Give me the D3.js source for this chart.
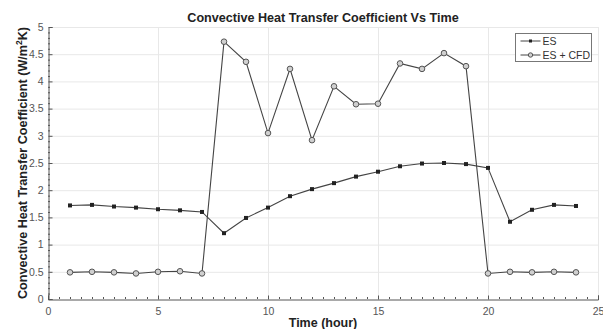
<!DOCTYPE html>
<html>
<head>
<meta charset="utf-8">
<script src="https://cdn.jsdelivr.net/npm/d3@7"></script>
<style>
  body { margin: 0; background: #fff; }
  text { font-family: "Liberation Sans", Arial, sans-serif; }
</style>
</head>
<body>
<div id="chart"></div>
<script>

// DATA

var hours = [1, 2, 3, 4, 5, 6, 7, 8, 9, 10, 11, 12, 13, 14, 15, 16, 17, 18, 19, 20, 21, 22, 23, 24];
var es = [1.72, 1.73, 1.70, 1.68, 1.65, 1.63, 1.60, 1.21, 1.49, 1.68, 1.89, 2.02, 2.13, 2.25, 2.34, 2.44, 2.49, 2.50, 2.48, 2.41, 1.42, 1.64, 1.73, 1.71];
var esCfd = [0.49, 0.50, 0.49, 0.47, 0.50, 0.51, 0.47, 4.73, 4.36, 3.05, 4.23, 2.92, 3.91, 3.58, 3.59, 4.33, 4.23, 4.52, 4.28, 0.47, 0.50, 0.49, 0.50, 0.49];
var xTicks = [0, 5, 10, 15, 20, 25];
var yTicks = [0, 0.5, 1, 1.5, 2, 2.5, 3, 3.5, 4, 4.5, 5];
var seriesNames = ['ES', 'ES + CFD'];

var width = 603, height = 329;
var margin = { left: 48, right: 5, top: 27, bottom: 30 };

var svg = d3.select('#chart')
  .append('svg')
    .attr('width', width)
    .attr('height', height);

var x = d3.scaleLinear().domain([0, 25]).range([margin.left, width - margin.right]);
var y = d3.scaleLinear().domain([0, 5]).range([height - margin.bottom, margin.top]);

// GRID

svg.append('g').selectAll('line.gx')
  .data(xTicks.slice(1))
  .enter().append('line')
    .attr('x1', function(d) { return x(d) + .5 }).attr('x2', function(d) { return x(d) + .5 })
    .attr('y1', y(0)).attr('y2', y(5))
    .attr('stroke', '#e8e8e8');

svg.append('g').selectAll('line.gy')
  .data(yTicks.slice(1))
  .enter().append('line')
    .attr('x1', x(0)).attr('x2', x(25))
    .attr('y1', function(d) { return y(d) + .5 }).attr('y2', function(d) { return y(d) + .5 })
    .attr('stroke', '#e8e8e8');

// AXES

var xAxis = d3.axisBottom(x).tickValues(xTicks).tickSize(-4).tickPadding(8).tickFormat(d3.format('d'));
var yAxis = d3.axisLeft(y).tickValues(yTicks).tickSize(-4).tickPadding(5).tickFormat(function(d) { return d; });

var gx = svg.append('g')
  .attr('transform', 'translate(0,' + (y(0) + .5) + ')')
  .call(xAxis);
var gy = svg.append('g')
  .attr('transform', 'translate(' + (x(0) + .5) + ',0)')
  .call(yAxis);

[gx, gy].forEach(function(g) {
  g.select('.domain').attr('stroke', '#555');
  g.selectAll('.tick line').attr('stroke', '#555');
  g.selectAll('.tick text').attr('fill', '#555').attr('font-size', 10.5);
});

// minor ticks
svg.append('g').selectAll('line')
  .data(d3.range(0.5, 25, 0.5).filter(function(d) { return d % 5 != 0 }))
  .enter().append('line')
    .attr('x1', function(d) { return x(d) + .5 }).attr('x2', function(d) { return x(d) + .5 })
    .attr('y1', y(0)).attr('y2', y(0) - 2)
    .attr('stroke', '#555');

svg.append('g').selectAll('line')
  .data(d3.range(1, 50).filter(function(d) { return d % 5 != 0 }).map(function(d) { return d / 10 }))
  .enter().append('line')
    .attr('x1', x(0)).attr('x2', x(0) + 2)
    .attr('y1', function(d) { return y(d) + .5 }).attr('y2', function(d) { return y(d) + .5 })
    .attr('stroke', '#555');

// LINES

var line = d3.line()
  .x(function(d) { return x(d[0]) })
  .y(function(d) { return y(d[1]) });

var esData = d3.zip(hours, es);
var cfdData = d3.zip(hours, esCfd);

svg.append('path')
  .datum(cfdData)
  .attr('d', line)
  .attr('fill', 'none')
  .attr('stroke', '#444')
  .attr('stroke-width', 1.1);

svg.append('path')
  .datum(esData)
  .attr('d', line)
  .attr('fill', 'none')
  .attr('stroke', '#444')
  .attr('stroke-width', 1.1);

svg.append('g').selectAll('circle')
  .data(cfdData)
  .enter().append('circle')
    .attr('cx', function(d) { return x(d[0]) })
    .attr('cy', function(d) { return y(d[1]) })
    .attr('r', 2.8)
    .attr('fill', '#d0d0d0')
    .attr('stroke', '#555')
    .attr('stroke-width', 1);

svg.append('g').selectAll('rect')
  .data(esData)
  .enter().append('rect')
    .attr('x', function(d) { return x(d[0]) - 2 })
    .attr('y', function(d) { return y(d[1]) - 2 })
    .attr('width', 4)
    .attr('height', 4)
    .attr('fill', '#222');

// TITLES

svg.append('text')
  .text('Convective Heat Transfer Coefficient Vs Time')
  .attr('x', (x(0) + x(25)) / 2)
  .attr('y', 22)
  .attr('text-anchor', 'middle')
  .attr('font-size', 12.6)
  .attr('font-weight', 'bold')
  .attr('fill', '#222');

svg.append('text')
  .text('Time (hour)')
  .attr('x', (x(0) + x(25)) / 2)
  .attr('y', 327)
  .attr('text-anchor', 'middle')
  .attr('font-size', 12.5)
  .attr('font-weight', 'bold')
  .attr('fill', '#222');

var ylab = svg.append('text')
  .attr('transform', 'translate(27,' + ((y(0) + y(5)) / 2) + ') rotate(-90)')
  .attr('text-anchor', 'middle')
  .attr('font-size', 12.6)
  .attr('font-weight', 'bold')
  .attr('fill', '#222');
ylab.append('tspan').text('Convective Heat Transfer Coefficient (W/m');
ylab.append('tspan').text('2').attr('font-size', 8.5).attr('dy', -5);
ylab.append('tspan').text('K)').attr('dy', 5);

// LEGEND

var legend = svg.append('g').attr('transform', 'translate(515.5,33.5)');
legend.append('rect')
  .attr('width', 76).attr('height', 28)
  .attr('fill', '#fff')
  .attr('stroke', '#777');

var items = legend.selectAll('g.item')
  .data(seriesNames)
  .enter().append('g')
    .attr('transform', function(d, i) { return 'translate(0,' + (7.5 + i * 14) + ')' });

items.append('line')
  .attr('x1', 5).attr('x2', 25)
  .attr('stroke', '#444');
items.filter(function(d, i) { return i == 0 }).append('rect')
  .attr('x', 13.5).attr('y', -1.5).attr('width', 3).attr('height', 3).attr('fill', '#222');
items.filter(function(d, i) { return i == 1 }).append('circle')
  .attr('cx', 15).attr('r', 2.2).attr('fill', '#d0d0d0').attr('stroke', '#555');
items.append('text')
  .text(function(d) { return d })
  .attr('x', 27)
  .attr('dy', '0.35em')
  .attr('font-size', 10.5)
  .attr('fill', '#333');

</script>
</body>
</html>
